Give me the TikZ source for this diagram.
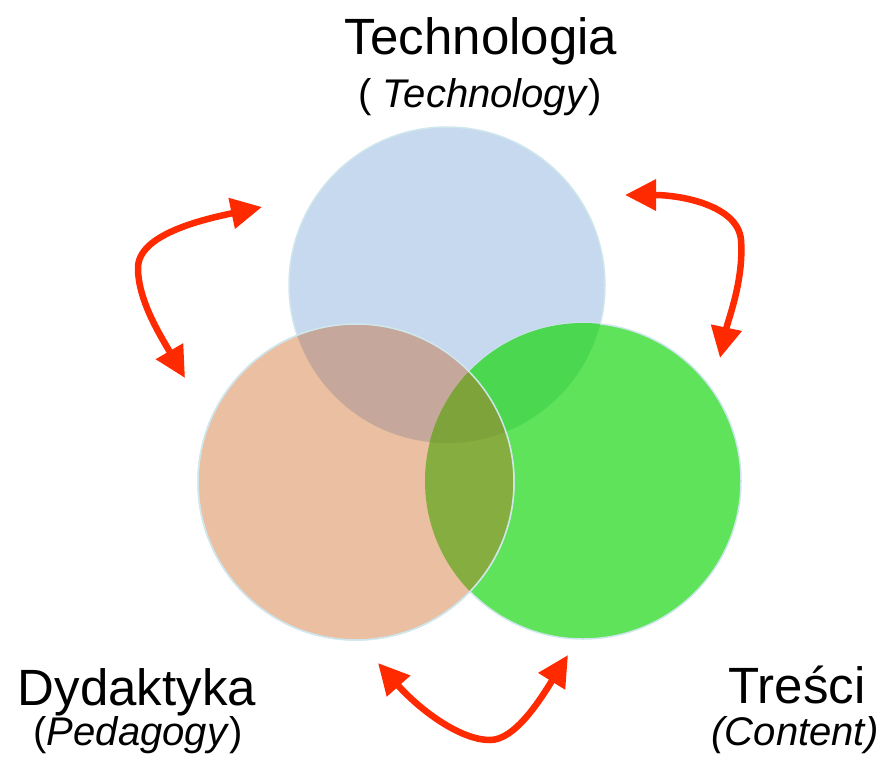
\documentclass[tikz,border=0pt]{standalone}
\usepackage{fontspec}
\setmainfont{Liberation Sans}
\usepackage{tikz}
\usetikzlibrary{arrows.meta,positioning}
\definecolor{techblue}{HTML}{C6D9EE}
\definecolor{pedorange}{HTML}{EBBFA1}
\definecolor{contgreen}{HTML}{5FE35A}
\definecolor{techped}{HTML}{C5A89B}
\definecolor{techcont}{HTML}{4CD751}
\definecolor{pedcont}{HTML}{86AD3F}
\definecolor{allthree}{HTML}{7EA33A}
\definecolor{rim}{HTML}{CFE6EC}
\definecolor{arrowred}{HTML}{FF2A00}
\begin{document}
\begin{tikzpicture}[x=1pt,y=-1pt,
venn/.style={
circle,
draw=rim,
line width=1.5pt,
inner sep=0pt,
minimum size=316pt
},
heading/.style={anchor=base,font=\fontsize{51}{51}\selectfont},
subheading/.style={anchor=base,font=\fontsize{40}{40}\selectfont},
to/.style={draw=arrowred,line width=6.5pt,{Triangle[length=31pt,width=30pt]}-{Triangle[length=31pt,width=30pt]}}]

\useasboundingbox (0,0) rectangle (888,765);

\node (tech) [venn,fill=techblue] at (447,285) {};
\node (cont) [venn,fill=contgreen] at (583,481) {};
\node (ped) [venn,fill=pedorange] at (356,482) {};

\begin{scope}
\clip (tech.center) circle (158pt);
\fill[techped] (ped.center) circle (158pt);
\fill[techcont] (cont.center) circle (158pt);
\end{scope}
\begin{scope}
\clip (ped.center) circle (158pt);
\fill[pedcont] (cont.center) circle (158pt);
\clip (cont.center) circle (158pt);
\fill[allthree] (tech.center) circle (158pt);
\end{scope}
\draw[rim,line width=1.5pt] (ped.center) circle (158pt);

\node (techname) [heading] at (481,55) {Technologia};
\node (techsub) [subheading] at (480,107) {( \textit{Technology})};
\node (pedname) [heading] at (137,705) {Dydaktyka};
\node (pedsub) [subheading] at (138,745) {(\textit{Pedagogy})};
\node (contname) [heading] at (797,703) {Treści};
\node (contsub) [subheading] at (795,745) {\textit{(Content)}};

\coordinate (techL) at (262,207);
\coordinate (techR) at (625,195);
\coordinate (pedT) at (185,378);
\coordinate (pedB) at (378,663);
\coordinate (contT) at (720,358);
\coordinate (contB) at (568,655);

\draw[to] (pedT) .. controls (160,335) and (138,300) .. (138,268) .. controls (138,235) and (200,220) .. (techL);
\draw[to] (techR) .. controls (680,195) and (738,205) .. (741,240) .. controls (744,280) and (728,320) .. (contT);
\draw[to] (pedB) .. controls (420,710) and (460,740) .. (490,740) .. controls (515,740) and (540,700) .. (contB);
\end{tikzpicture}
\end{document}
